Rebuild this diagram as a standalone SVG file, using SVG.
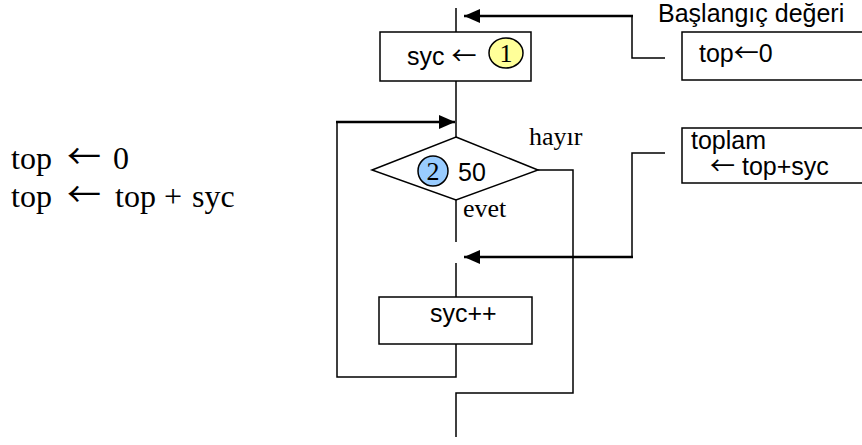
<svg xmlns="http://www.w3.org/2000/svg" width="862" height="445" viewBox="0 0 862 445">
<style>
.ln{fill:none;stroke:#000;stroke-width:1.5}
.th{fill:none;stroke:#000;stroke-width:2.5}
.bx{fill:#fff;stroke:#000;stroke-width:1.5}
.sans{font-family:"Liberation Sans",Arial,sans-serif;font-size:25px;fill:#000}
.serif{font-family:"Liberation Serif","Times New Roman",serif;fill:#000}
.arr{font-family:"Noto Sans CJK JP","DejaVu Sans",sans-serif}
</style>
<defs>
<marker id="ah" viewBox="0 0 16 14" refX="16" refY="7" markerWidth="16" markerHeight="14" markerUnits="userSpaceOnUse" orient="auto">
<path d="M0,0 L16,7 L0,14 Z" fill="#000"/>
</marker>
</defs>
<g id="connectors">
<line class="ln" x1="456" y1="8" x2="456" y2="32"/>
<line class="ln" x1="456" y1="81" x2="456" y2="137"/>
<line class="ln" x1="456" y1="200" x2="456" y2="242"/>
<line class="ln" x1="456" y1="263" x2="456" y2="297"/>
<polyline class="ln" points="665,58 632,58 632,16"/>
<line class="th" x1="633" y1="16" x2="464" y2="16" marker-end="url(#ah)"/>
<polyline class="ln" points="665,153 632,153 632,257"/>
<line class="th" x1="633" y1="257" x2="464" y2="257" marker-end="url(#ah)"/>
<polyline class="ln" points="456,344 456,377 337,377 337,122"/>
<line class="th" x1="336" y1="122" x2="455" y2="122" marker-end="url(#ah)"/>
<polyline class="ln" points="538,170 573,170 573,393 456,393 456,437"/>
</g>
<g id="init">
<rect class="bx" x="380" y="32" width="151" height="49"/>
<text class="sans" x="407" y="65">syc <tspan class="arr">←</tspan></text>
<ellipse cx="506" cy="53" rx="17" ry="15" fill="#ffff99" stroke="#000" stroke-width="1.5"/>
<text class="serif" x="506" y="62" font-size="26" text-anchor="middle">1</text>
</g>
<g id="cond">
<polygon class="bx" points="456,137 538,170 456,200 372,170"/>
<ellipse cx="433" cy="171" rx="15" ry="15" fill="#99ccff" stroke="#000" stroke-width="1.5"/>
<text class="serif" x="433" y="180" font-size="26" text-anchor="middle">2</text>
<text class="sans" x="458" y="181">50</text>
<text class="serif" x="529" y="145" font-size="26">hayır</text>
<text class="serif" x="463" y="217" font-size="26">evet</text>
</g>
<g id="incr">
<rect class="bx" x="379" y="297" width="153" height="47"/>
<text class="sans" x="430" y="322">syc++</text>
</g>
<g id="note-init">
<text class="sans" x="658" y="22" font-size="23">Başlangıç değeri</text>
<rect class="bx" x="682" y="32" width="185" height="48"/>
<text class="sans" x="699" y="62">top<tspan class="arr">←</tspan>0</text>
</g>
<g id="note-sum">
<rect class="bx" x="682" y="128" width="185" height="55"/>
<text class="sans" x="691" y="149" font-size="24">toplam</text>
<text class="sans" x="710" y="175" font-size="24"><tspan class="arr">←</tspan> top+syc</text>
</g>
<g id="formula">
<text class="serif" y="169" font-size="32"><tspan x="11">top</tspan><tspan x="67" class="arr" font-size="34">←</tspan><tspan x="113">0</tspan></text>
<text class="serif" y="207" font-size="32"><tspan x="11">top</tspan><tspan x="67" class="arr" font-size="34">←</tspan><tspan x="115">top</tspan><tspan x="164">+</tspan><tspan x="192">syc</tspan></text>
</g>
</svg>
